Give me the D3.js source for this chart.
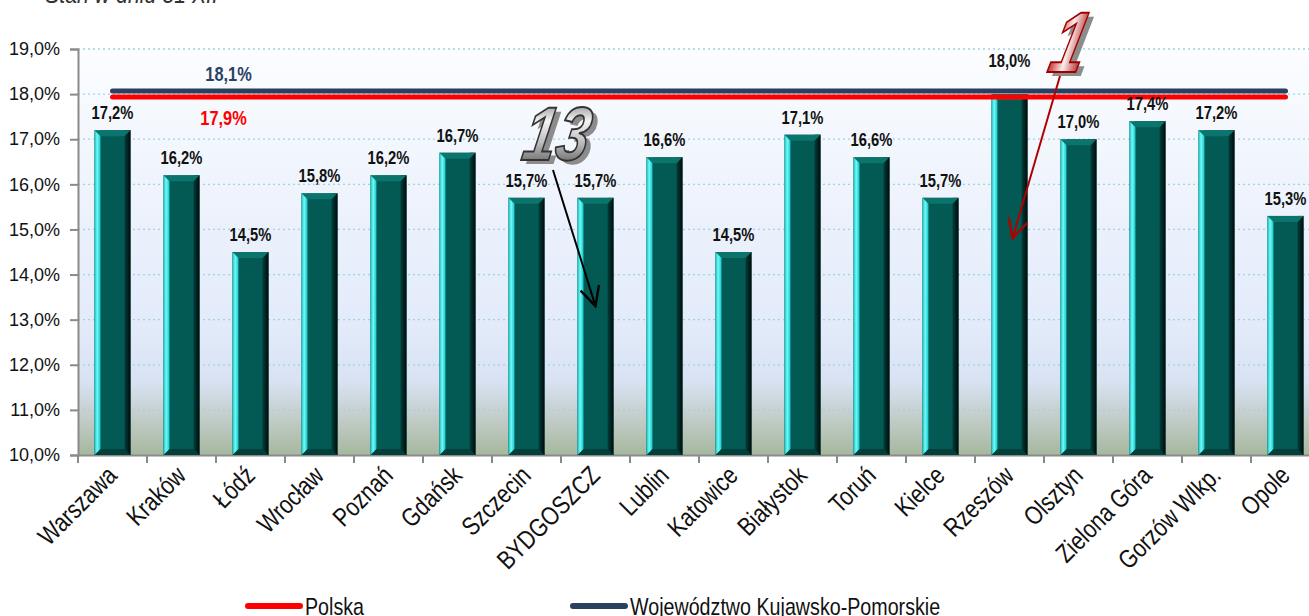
<!DOCTYPE html>
<html>
<head>
<meta charset="utf-8">
<script src="https://cdn.jsdelivr.net/npm/d3@7"></script>
<style>
  html, body { margin: 0; padding: 0; background: #fff; overflow: hidden; }
  svg { display: block; }
</style>
</head>
<body>
<div id="chart"></div>
<script>
// chart data
const cities = ["Warszawa", "Kraków", "Łódź", "Wrocław", "Poznań", "Gdańsk", "Szczecin", "BYDGOSZCZ", "Lublin",
  "Katowice", "Białystok", "Toruń", "Kielce", "Rzeszów", "Olsztyn", "Zielona Góra", "Gorzów Wlkp.", "Opole"];
const values = [17.2, 16.2, 14.5, 15.8, 16.2, 16.7, 15.7, 15.7, 16.6, 14.5, 17.1, 16.6, 15.7, 18.0, 17.0, 17.4, 17.2, 15.3];
const polskaValue = 17.9;
const kujPomValue = 18.1;
const yTicks = [10, 11, 12, 13, 14, 15, 16, 17, 18, 19];
const legendNames = ["Polska", "Województwo Kujawsko-Pomorskie"];
const titleText = "Stan w dniu 31 XII";

const fmt = v => d3.format(".1f")(v).replace(".", ",") + "%";
const font = "'Liberation Sans', Arial, sans-serif";
const sx = 0.82; // squeeze to look like Arial Narrow

const W = 1309, H = 616;
const margin = {top: 49, left: 78, bottom: 161};
const step = 69;

const svg = d3.select("#chart").append("svg")
  .attr("width", W)
  .attr("height", H)
  .attr("font-family", font);

const defs = svg.append("defs");

// background gradient of plot area
const bg = defs.append("linearGradient").attr("id", "bg").attr("x1", 0).attr("y1", 0).attr("x2", 0).attr("y2", 1);
bg.append("stop").attr("offset", "0%").attr("stop-color", "#fbfdff");
bg.append("stop").attr("offset", "70%").attr("stop-color", "#e2eafa");
bg.append("stop").attr("offset", "82%").attr("stop-color", "#d8e2f2");
bg.append("stop").attr("offset", "91%").attr("stop-color", "#c2ccc8");
bg.append("stop").attr("offset", "100%").attr("stop-color", "#a6b89e");

const leftG = defs.append("linearGradient").attr("id", "barLeft");
leftG.append("stop").attr("offset", "0%").attr("stop-color", "#1fb8b8");
leftG.append("stop").attr("offset", "45%").attr("stop-color", "#6ffcfc");
leftG.append("stop").attr("offset", "100%").attr("stop-color", "#18c4c4");

const rightG = defs.append("linearGradient").attr("id", "barRight");
rightG.append("stop").attr("offset", "0%").attr("stop-color", "#023e3a");
rightG.append("stop").attr("offset", "100%").attr("stop-color", "#000c0b");

const silver = defs.append("linearGradient").attr("id", "silver").attr("x1", 0).attr("y1", 0).attr("x2", 0).attr("y2", 1);
silver.append("stop").attr("offset", "0%").attr("stop-color", "#5a5a5a");
silver.append("stop").attr("offset", "35%").attr("stop-color", "#f4f4f4");
silver.append("stop").attr("offset", "60%").attr("stop-color", "#bdbdbd");
silver.append("stop").attr("offset", "100%").attr("stop-color", "#3c3c3c");

const redG = defs.append("linearGradient").attr("id", "redG").attr("x1", 0).attr("y1", 0).attr("x2", 1).attr("y2", 0);
redG.append("stop").attr("offset", "0%").attr("stop-color", "#c02020");
redG.append("stop").attr("offset", "45%").attr("stop-color", "#fbeeee");
redG.append("stop").attr("offset", "100%").attr("stop-color", "#a80c0c");

["arrBlack", "arrRed"].forEach((id, i) => {
  defs.append("marker").attr("id", id)
    .attr("viewBox", "0 0 20 20").attr("refX", 18).attr("refY", 10)
    .attr("markerWidth", 24).attr("markerHeight", 24).attr("markerUnits", "userSpaceOnUse")
    .attr("orient", "auto")
    .append("path").attr("d", "M2,2 L18,10 L2,18")
    .attr("fill", "none").attr("stroke", i ? "#b00000" : "#000").attr("stroke-width", 2);
});

// narrow text helper
function ntext(g, px, py, txt) {
  return g.append("text")
    .attr("transform", `translate(${px},${py}) scale(${sx},1)`)
    .text(txt);
}

// scales
const x = d3.scaleBand()
  .domain(cities)
  .range([margin.left, margin.left + step * cities.length])
  .paddingInner(0.478).paddingOuter(0.239);

const y = d3.scaleLinear()
  .domain([10, 19])
  .range([H - margin.bottom, margin.top]);

const y0 = y(10);

// plot background
svg.append("rect")
  .attr("x", margin.left).attr("y", y(19))
  .attr("width", W - margin.left).attr("height", y0 - y(19))
  .attr("fill", "url(#bg)");

// gridlines
svg.append("g").selectAll("line")
  .data(yTicks.slice(1))
  .join("line")
  .attr("x1", margin.left).attr("x2", W)
  .attr("y1", d => y(d)).attr("y2", d => y(d))
  .attr("stroke", "#9fd4de").attr("stroke-width", 1.3).attr("stroke-dasharray", "2,3");

// y axis
const yAxis = svg.append("g")
  .attr("transform", `translate(${margin.left},0)`)
  .call(d3.axisLeft(y).tickValues(yTicks).tickFormat(fmt).tickSize(8).tickPadding(10));
yAxis.select(".domain").attr("stroke", "#8a8a8a").attr("stroke-width", 2);
yAxis.selectAll(".tick line").attr("stroke", "#8a8a8a").attr("stroke-width", 2);
yAxis.selectAll("text").attr("font-family", font).attr("font-size", 18).attr("fill", "#111");

// x axis
const xAxis = svg.append("g")
  .attr("transform", `translate(0,${y0})`)
  .call(d3.axisBottom(x).tickSize(0).tickFormat(""));
xAxis.select(".domain").attr("stroke", "#8a8a8a").attr("stroke-width", 2);
svg.append("g").selectAll("line")
  .data(cities)
  .join("line")
  .attr("x1", d => x(d) - x.step() * x.paddingInner() / 2)
  .attr("x2", d => x(d) - x.step() * x.paddingInner() / 2)
  .attr("y1", y0).attr("y2", y0 + 8)
  .attr("stroke", "#8a8a8a").attr("stroke-width", 2);

svg.append("g").selectAll("text")
  .data(cities)
  .join("text")
  .attr("transform", d => `translate(${x(d) + x.bandwidth() / 2 + 6},${y0 + 22}) rotate(-45) scale(${sx},1)`)
  .attr("text-anchor", "end")
  .attr("font-size", 26)
  .attr("fill", "#111")
  .text(d => d);

// bars (3D look)
const bev = 6;
const bars = svg.append("g").selectAll("g")
  .data(cities.map((c, i) => ({name: c, value: values[i]})))
  .join("g");

bars.append("rect")
  .attr("x", d => x(d.name)).attr("y", d => y(d.value))
  .attr("width", x.bandwidth()).attr("height", d => y0 - y(d.value))
  .attr("fill", "#035a54");
bars.append("rect")
  .attr("x", d => x(d.name)).attr("y", d => y(d.value))
  .attr("width", bev).attr("height", d => y0 - y(d.value))
  .attr("fill", "url(#barLeft)");
bars.append("rect")
  .attr("x", d => x(d.name) + x.bandwidth() - bev).attr("y", d => y(d.value))
  .attr("width", bev).attr("height", d => y0 - y(d.value))
  .attr("fill", "url(#barRight)");
bars.append("path")
  .attr("d", d => {
    const a = x(d.name), b = a + x.bandwidth(), t = y(d.value);
    return `M${a},${t}L${b},${t}L${b - bev},${t + bev}L${a + bev},${t + bev}Z`;
  })
  .attr("fill", "#0b746d");
bars.append("path")
  .attr("d", d => {
    const a = x(d.name), b = a + x.bandwidth();
    return `M${a},${y0}L${b},${y0}L${b - bev},${y0 - bev}L${a + bev},${y0 - bev}Z`;
  })
  .attr("fill", "#023f3b");

// Polska / Kujawsko-Pomorskie lines
const xFirst = x(cities[0]) + x.bandwidth() / 2;
const xLast = x(cities[cities.length - 1]) + x.bandwidth() / 2;
svg.append("line")
  .attr("x1", xFirst).attr("x2", xLast)
  .attr("y1", y(kujPomValue) + 1.5).attr("y2", y(kujPomValue) + 1.5)
  .attr("stroke", "#2b3f5e").attr("stroke-width", 5).attr("stroke-linecap", "round");
svg.append("line")
  .attr("x1", xFirst).attr("x2", xLast)
  .attr("y1", y(polskaValue) - 1.5).attr("y2", y(polskaValue) - 1.5)
  .attr("stroke", "#ff0000").attr("stroke-width", 5).attr("stroke-linecap", "round");

const xLineLbl = x(cities[1]) + x.bandwidth() / 2 + 47;
ntext(svg, xLineLbl, y(kujPomValue) - 9, fmt(kujPomValue))
  .attr("text-anchor", "middle")
  .attr("font-weight", "bold").attr("font-size", 20)
  .attr("fill", "#2b4264");
ntext(svg, xLineLbl - 5, y(polskaValue) + 26, fmt(polskaValue))
  .attr("text-anchor", "middle")
  .attr("font-weight", "bold").attr("font-size", 20)
  .attr("fill", "#ff0000");

// value labels
const vl = svg.append("g")
  .attr("text-anchor", "middle")
  .attr("font-weight", "bold").attr("font-size", 18)
  .attr("fill", "#111");
cities.forEach((c, i) => {
  const v = values[i];
  ntext(vl, x(c) + x.bandwidth() / 2, v >= polskaValue ? y(v) - 27 : y(v) - 11, fmt(v));
});

// rank annotations
function bigNumber(txt, px, py, size, scale, skew, fill, stroke) {
  const g = svg.append("g")
    .attr("font-weight", "bold").attr("font-style", "italic").attr("font-size", size);
  g.append("text").attr("transform", `translate(${px + 5},${py + 4}) skewX(${skew}) scale(${scale},1)`)
    .attr("fill", "#8c8c8c").text(txt);
  g.append("text").attr("transform", `translate(${px},${py}) skewX(${skew}) scale(${scale},1)`)
    .attr("fill", fill).attr("stroke", stroke).attr("stroke-width", 2).text(txt);
}

const bydIdx = cities.indexOf("BYDGOSZCZ");
const rzIdx = cities.indexOf("Rzeszów");
bigNumber("13", 520, 160, 76, 0.78, -10, "url(#silver)", "#333");
svg.append("line")
  .attr("x1", 553).attr("y1", 170)
  .attr("x2", x(cities[bydIdx]) + x.bandwidth() / 2).attr("y2", y(13.3))
  .attr("stroke", "#000").attr("stroke-width", 2)
  .attr("marker-end", "url(#arrBlack)");

bigNumber("1", 1046, 72, 86, 0.72, -14, "url(#redG)", "#a00000");
svg.append("line")
  .attr("x1", 1060).attr("y1", 76)
  .attr("x2", x(cities[rzIdx]) + x.bandwidth() / 2 + 3).attr("y2", y(14.8))
  .attr("stroke", "#b00000").attr("stroke-width", 2)
  .attr("marker-end", "url(#arrRed)");

// title (partly cut at the top)
ntext(svg, 45, 3, titleText)
  .attr("font-style", "italic").attr("font-size", 26)
  .attr("fill", "#333");

// legend
const legend = svg.append("g");
const legendX = [248, 573];
const legendCol = ["#ff0000", "#2b3f5e"];
legendNames.forEach((n, i) => {
  legend.append("line")
    .attr("x1", legendX[i]).attr("x2", legendX[i] + 52)
    .attr("y1", 606).attr("y2", 606)
    .attr("stroke", legendCol[i]).attr("stroke-width", 6).attr("stroke-linecap", "round");
  ntext(legend, legendX[i] + 57, 615, n)
    .attr("font-size", 24)
    .attr("fill", "#111");
});
</script>
</body>
</html>
